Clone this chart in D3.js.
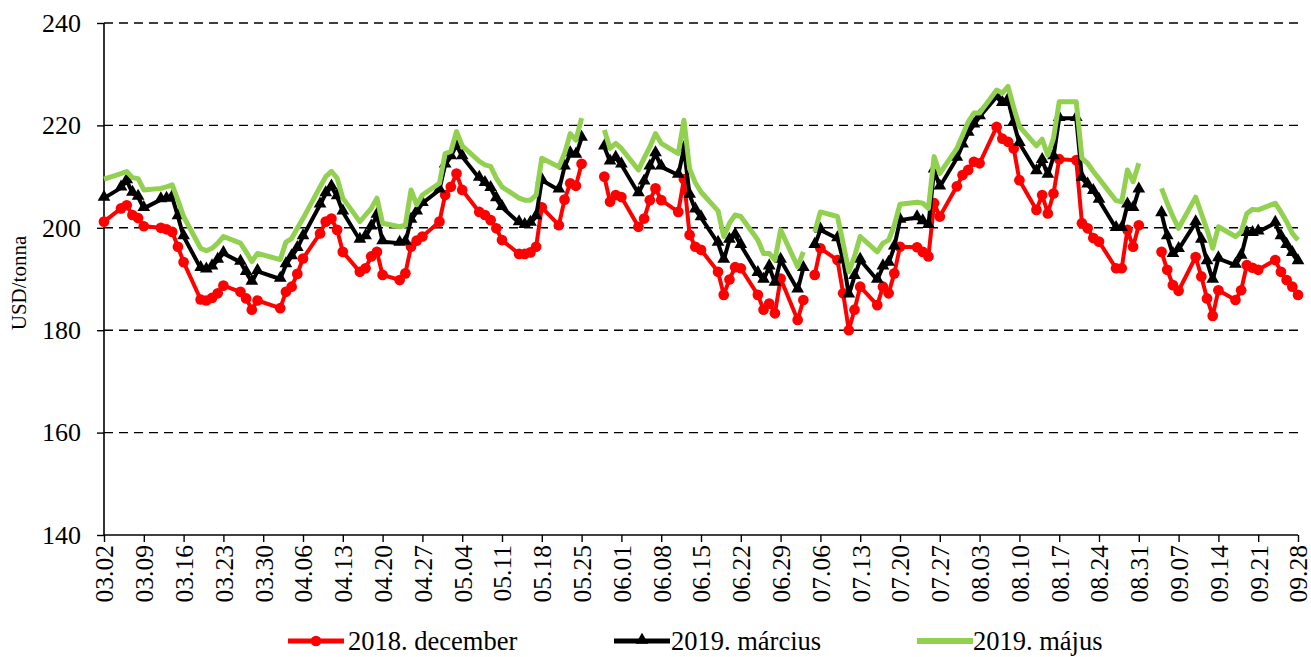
<!DOCTYPE html>
<html><head><meta charset="utf-8">
<script src="https://cdn.jsdelivr.net/npm/d3@7"></script>
<style>
body{margin:0;background:#fff;}
svg{display:block;font-family:"Liberation Serif","Times New Roman",serif;}
</style></head><body>
<svg id="chart" width="1311" height="657"></svg>
<script>
const year = "2018";
const dates = [
"03.02","03.05","03.06","03.07","03.08","03.09",
"03.12","03.13","03.14","03.15","03.16",
"03.19","03.20","03.21","03.22","03.23",
"03.26","03.27","03.28","03.29",
"04.02","04.03","04.04","04.05","04.06",
"04.09","04.10","04.11","04.12","04.13",
"04.16","04.17","04.18","04.19","04.20",
"04.23","04.24","04.25","04.26","04.27",
"04.30","05.01","05.02","05.03","05.04",
"05.07","05.08","05.09","05.10","05.11",
"05.14","05.15","05.16","05.17","05.18",
"05.21","05.22","05.23","05.24","05.25",
"05.28","05.29","05.30","05.31","06.01",
"06.04","06.05","06.06","06.07","06.08",
"06.11","06.12","06.13","06.14","06.15",
"06.18","06.19","06.20","06.21","06.22",
"06.25","06.26","06.27","06.28","06.29",
"07.02","07.03","07.04","07.05","07.06",
"07.09","07.10","07.11","07.12","07.13",
"07.16","07.17","07.18","07.19","07.20",
"07.23","07.24","07.25","07.26","07.27",
"07.30","07.31","08.01","08.02","08.03",
"08.06","08.07","08.08","08.09","08.10",
"08.13","08.14","08.15","08.16","08.17",
"08.20","08.21","08.22","08.23","08.24",
"08.27","08.28","08.29","08.30","08.31",
"09.03","09.04","09.05","09.06","09.07",
"09.10","09.11","09.12","09.13","09.14",
"09.17","09.18","09.19","09.20","09.21",
"09.24","09.25","09.26","09.27","09.28"];

const dec2018 = [
201.2,203.8,204.4,202.5,201.9,200.3,
200.0,199.7,199.2,196.3,193.3,
186.0,185.8,186.3,187.2,188.7,
187.5,186.2,184.0,185.8,
184.3,187.5,188.5,191.0,194.0,
198.9,201.2,201.8,199.6,195.3,
191.4,192.1,194.4,195.3,190.8,
189.8,191.1,196.3,197.5,198.3,
201.2,206.4,208.0,210.6,207.4,
203.1,202.5,201.5,199.9,197.6,
194.9,194.9,195.2,196.3,204.0,
200.5,205.5,208.7,208.2,212.5,
null,210.0,205.1,206.4,206.0,
200.2,201.8,205.4,207.7,205.4,
203.1,209.5,198.6,196.3,195.7,
191.4,186.9,189.9,192.3,192.1,
186.9,184.0,185.2,183.3,190.1,
182.0,185.9,null,190.8,196.0,
193.7,187.2,180.0,184.0,188.5,
184.9,188.5,187.2,191.1,196.3,
196.2,195.3,194.4,204.8,202.2,
208.1,210.3,211.3,212.9,212.6,
219.7,217.4,216.8,215.5,209.3,
203.5,206.4,202.8,206.7,213.4,
213.2,200.9,199.9,198.0,197.3,
192.1,192.1,199.6,196.3,200.5,
null,195.3,191.8,188.8,187.7,
194.3,190.5,186.2,182.8,187.8,
185.9,187.8,192.7,192.2,191.8,
193.7,191.4,189.8,188.5,186.9];

const mar2019 = [
205.8,207.8,209.2,206.8,206.0,203.8,
205.5,205.6,206.0,202.2,198.3,
192.1,191.8,192.4,193.7,195.0,
193.3,191.3,189.4,191.5,
190.0,192.8,194.4,196.0,198.3,
204.5,206.7,208.0,206.1,203.1,
197.6,198.3,200.2,202.5,197.3,
197.0,197.2,201.5,203.1,204.8,
207.4,212.3,213.9,216.2,213.9,
209.7,208.7,207.7,205.7,204.0,
201.0,200.5,200.9,202.2,209.3,
207.4,211.9,214.5,214.2,217.5,
null,215.8,212.9,213.6,212.3,
206.7,209.0,211.9,214.5,211.9,
210.3,215.5,206.4,203.5,202.0,
197.0,193.7,197.6,198.6,196.6,
191.1,189.8,192.4,189.2,193.7,
187.9,192.1,null,196.6,199.6,
197.9,193.7,186.9,190.5,193.7,
189.8,192.4,193.1,196.3,201.5,
202.0,201.2,200.5,211.3,208.0,
213.6,216.2,218.5,220.1,221.7,
225.6,224.3,225.0,220.5,216.5,
211.0,213.2,210.3,213.9,221.4,
221.4,209.7,208.4,207.1,205.4,
199.9,199.9,204.5,203.8,207.4,
null,202.8,198.3,194.8,195.8,
201.0,197.6,193.4,189.8,194.0,
192.7,194.5,198.9,198.9,199.2,
200.9,198.3,196.6,195.0,193.4];

const may2019 = [
209.5,210.6,211.0,209.8,209.6,207.4,
207.7,208.0,208.4,205.4,202.2,
196.0,195.5,196.0,197.0,198.3,
197.0,195.3,193.4,195.0,
193.8,197.2,197.9,199.9,201.8,
208.0,210.0,211.0,209.7,205.8,
201.2,202.5,203.8,205.8,200.9,
200.2,200.5,207.4,204.5,206.4,
208.7,214.5,214.9,218.8,216.0,
213.0,212.3,212.0,209.7,208.0,
205.8,205.4,205.4,206.4,213.6,
211.9,214.5,218.4,217.1,221.4,
null,219.1,215.5,216.5,215.5,
211.3,213.6,215.8,218.4,216.5,
214.5,221.0,211.5,208.8,207.0,
203.3,198.3,200.9,202.5,202.2,
197.6,195.0,195.0,193.7,199.6,
192.4,195.3,null,199.2,203.1,
202.2,197.0,191.4,194.4,198.3,
195.3,197.0,197.6,200.5,204.6,
205.0,204.8,203.8,213.9,210.6,
215.5,218.1,220.7,222.4,222.4,
226.9,226.3,227.6,223.5,219.8,
216.0,217.3,214.2,217.5,224.6,
224.6,213.6,212.6,211.0,209.6,
205.3,205.1,211.3,209.0,212.6,
null,207.7,204.8,202.2,199.9,
206.0,202.8,199.6,196.0,200.2,
198.3,199.2,202.8,203.6,203.5,
204.8,203.1,201.2,198.9,197.6];

const yTicks = [140,160,180,200,220,240];
const xTickLabels = ["03.02","03.09","03.16","03.23","03.30","04.06","04.13","04.20","04.27",
"05.04","05.11","05.18","05.25","06.01","06.08","06.15","06.22","06.29","07.06","07.13",
"07.20","07.27","08.03","08.10","08.17","08.24","08.31","09.07","09.14","09.21","09.28"];
const seriesNames = ["2018. december","2019. március","2019. május"];
const yTitle = "USD/tonna";

const parse = s => d3.timeParse("%Y.%m.%d")(year + "." + s);
const fmt = d3.timeFormat("%m.%d");

const svg = d3.select("#chart");
const m = {left:104, right:1298, top:23, bottom:535};
const x = d3.scaleTime().domain([parse(xTickLabels[0]), parse(xTickLabels[xTickLabels.length-1])]).range([m.left, m.right]);
const y = d3.scaleLinear().domain([140,240]).range([m.bottom, m.top]);

// gridlines
svg.append("g").selectAll("line").data(yTicks.filter(v=>v>140)).join("line")
  .attr("x1", m.left).attr("x2", m.right)
  .attr("y1", d=>y(d)).attr("y2", d=>y(d))
  .attr("stroke","#000").attr("stroke-width",1.4).attr("stroke-dasharray","9,6");

// axes
const yAxis = svg.append("g").attr("transform",`translate(${m.left},0)`)
  .call(d3.axisLeft(y).tickValues(yTicks).tickSize(7).tickPadding(16).tickFormat(d3.format("d")));
yAxis.select(".domain").attr("stroke","#000").attr("stroke-width",1.6).attr("d",`M0,${m.top}V${m.bottom}`);
yAxis.selectAll(".tick line").attr("stroke","#000").attr("stroke-width",1.4);
yAxis.selectAll("text").attr("font-size",26).attr("fill","#000").attr("font-family","Liberation Serif");

const xAxis = svg.append("g").attr("transform",`translate(0,${m.bottom})`)
  .call(d3.axisBottom(x).tickValues(xTickLabels.map(parse)).tickSize(7).tickFormat(fmt));
xAxis.select(".domain").attr("stroke","#000").attr("stroke-width",1.6).attr("d",`M${m.left},0H${m.right}`);
xAxis.selectAll(".tick line").attr("stroke","#000").attr("stroke-width",1.4);
xAxis.selectAll("text").attr("font-size",25.5).attr("fill","#000").attr("font-family","Liberation Serif")
  .attr("transform","rotate(-90)").attr("text-anchor","end")
  .attr("x",-10).attr("y",0).attr("dy","0.35em");

// y title
svg.append("text").attr("transform",`translate(19,283) rotate(-90)`)
  .attr("text-anchor","middle").attr("dominant-baseline","central")
  .attr("font-size",21).attr("fill","#000").text(yTitle);

// series
const series = [
  {name: seriesNames[0], values: dec2018, color:"#ff0000", marker:"circle", width:4},
  {name: seriesNames[1], values: mar2019, color:"#000000", marker:"triangle", width:4},
  {name: seriesNames[2], values: may2019, color:"#92d050", marker:null, width:5}
];
const pts = vals => dates.map((d,i)=>({date:parse(d), v:vals[i]}));
const line = d3.line().defined(d=>d.v!=null).x(d=>x(d.date)).y(d=>y(d.v));
const circle = d3.symbol().type(d3.symbolCircle).size(90);
const tri = d3.symbol().type(d3.symbolTriangle).size(70);

series.forEach(s=>{
  const data = pts(s.values);
  const g = svg.append("g");
  g.append("path").datum(data).attr("d",line).attr("fill","none")
    .attr("stroke",s.color).attr("stroke-width",s.width).attr("stroke-linejoin","round");
  if (s.marker) {
    g.selectAll("path.mk").data(data.filter(d=>d.v!=null)).join("path").attr("class","mk")
      .attr("d", s.marker==="circle" ? circle : tri)
      .attr("transform", d=>`translate(${x(d.date)},${y(d.v) + (s.marker==="triangle"?-1:0)})`)
      .attr("fill",s.color);
  }
});

// legend
const legendItems = [
  {lx:288, tx:348},
  {lx:614, tx:671},
  {lx:917, tx:973}
];
const ly = 641;
series.forEach((s,i)=>{
  const it = legendItems[i];
  const g = svg.append("g");
  g.append("line").attr("x1",it.lx).attr("x2",it.lx+56).attr("y1",ly).attr("y2",ly)
    .attr("stroke",s.color).attr("stroke-width",s.width+1);
  if (s.marker) g.append("path").attr("d", s.marker==="circle"?circle():tri())
    .attr("transform",`translate(${it.lx+28},${ly + (s.marker==="triangle"?-1:0)})`).attr("fill",s.color);
  g.append("text").attr("x",it.tx).attr("y",ly).attr("dominant-baseline","central")
    .attr("font-size",26.5).attr("fill","#000").text(s.name);
});
</script>
</body></html>
